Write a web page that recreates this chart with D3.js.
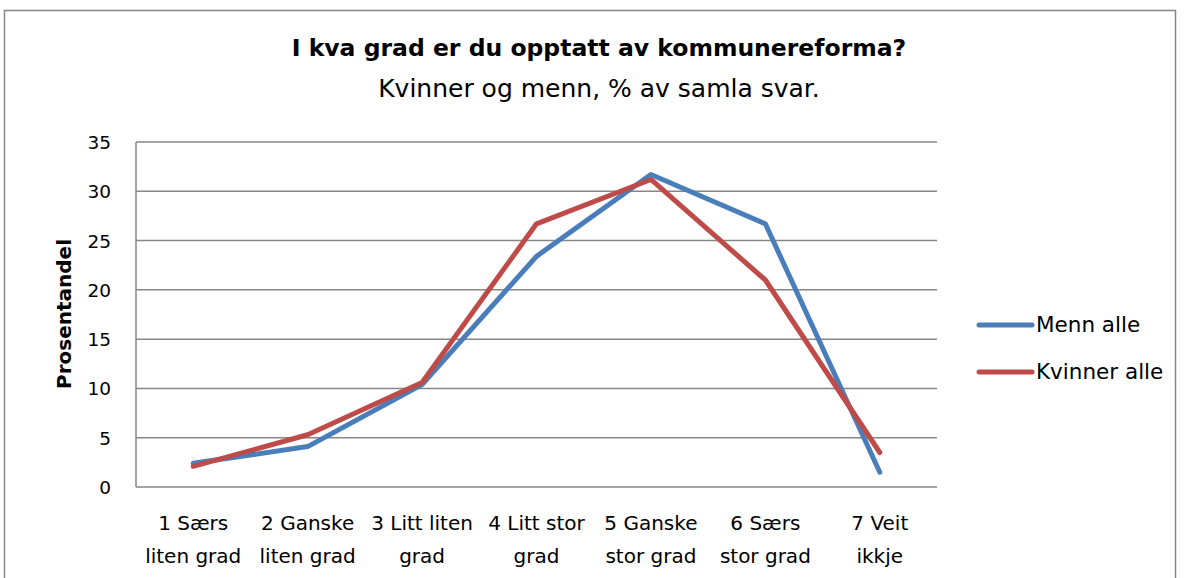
<!DOCTYPE html>
<html>
<head>
<meta charset="utf-8">
<script src="https://cdn.jsdelivr.net/npm/d3@7"></script>
<style>
  body { margin: 0; background: #fff; }
  svg { display: block; font-family: "DejaVu Sans", sans-serif; }
</style>
</head>
<body>
<svg id="chart" width="1184" height="578"></svg>
<script>
const categories = [
  ["1 Særs", "liten grad"],
  ["2 Ganske", "liten grad"],
  ["3 Litt liten", "grad"],
  ["4 Litt stor", "grad"],
  ["5 Ganske", "stor grad"],
  ["6 Særs", "stor grad"],
  ["7 Veit", "ikkje"],
];
const menn = [2.4, 4.1, 10.4, 23.4, 31.7, 26.7, 1.5];
const kvinner = [2.1, 5.3, 10.6, 26.7, 31.2, 21.0, 3.5];
const seriesNames = ["Menn alle", "Kvinner alle"];
const yTicks = [0, 5, 10, 15, 20, 25, 30, 35];

const colors = { "Menn alle": "#4a7ebb", "Kvinner alle": "#be4b48" };

let plot = { left: 136, right: 937, top: 142, bottom: 487 };

const svg = d3.select("#chart");

// outer chart border
svg.append("rect")
  .attr("x", 4.5).attr("y", 10.5)
  .attr("width", 1171).attr("height", 600)
  .attr("fill", "none")
  .attr("stroke", "#868686")
  .attr("stroke-width", 1.5);

const x = d3.scaleBand()
  .domain(d3.range(categories.length))
  .range([plot.left, plot.right]);

const y = d3.scaleLinear()
  .domain([0, 35])
  .range([plot.bottom, plot.top]);

// gridlines
svg.append("g")
  .selectAll("line")
  .data(yTicks)
  .enter()
  .append("line")
  .attr("x1", plot.left).attr("x2", plot.right)
  .attr("y1", (d) => y(d)).attr("y2", (d) => y(d))
  .attr("stroke", "#868686")
  .attr("stroke-width", 1.5);

// y axis line
svg.append("line")
  .attr("x1", plot.left).attr("x2", plot.left)
  .attr("y1", plot.top).attr("y2", plot.bottom)
  .attr("stroke", "#868686")
  .attr("stroke-width", 1.5);

// y tick labels
svg.append("g")
  .selectAll("text")
  .data(yTicks)
  .enter()
  .append("text")
  .attr("x", 111)
  .attr("y", (d) => y(d) + 7)
  .attr("text-anchor", "end")
  .attr("font-size", 18.5)
  .attr("fill", "#000")
  .text((d) => d);

// y axis title
svg.append("text")
  .attr("transform", "translate(71, 314) rotate(-90)")
  .attr("text-anchor", "middle")
  .attr("font-size", 20)
  .attr("font-weight", "bold")
  .text("Prosentandel");

// x labels
const xl = svg.append("g")
  .selectAll("text")
  .data(categories)
  .enter()
  .append("text")
  .attr("text-anchor", "middle")
  .attr("font-size", 20)
  .attr("x", (d, i) => x(i) + x.bandwidth() / 2);
xl.append("tspan")
  .attr("x", (d, i) => x(i) + x.bandwidth() / 2)
  .attr("y", 530)
  .text((d) => d[0]);
xl.append("tspan")
  .attr("x", (d, i) => x(i) + x.bandwidth() / 2)
  .attr("y", 563)
  .text((d) => d[1]);

// lines
const line = d3.line()
  .x((d, i) => x(i) + x.bandwidth() / 2)
  .y((d) => y(d));

[menn, kvinner].forEach((values, k) => {
  svg.append("path")
    .datum(values)
    .attr("d", line)
    .attr("fill", "none")
    .attr("stroke", colors[seriesNames[k]])
    .attr("stroke-width", 5)
    .attr("stroke-linejoin", "round")
    .attr("stroke-linecap", "round");
});

// legend
const legend = svg.append("g")
  .selectAll("g")
  .data(seriesNames)
  .enter()
  .append("g")
  .attr("transform", (d, i) => `translate(0, ${325 + i * 47})`);
legend.append("line")
  .attr("x1", 979).attr("x2", 1032)
  .attr("stroke", (d) => colors[d])
  .attr("stroke-width", 5)
  .attr("stroke-linecap", "round");
legend.append("text")
  .attr("x", 1036)
  .attr("y", 7)
  .attr("font-size", 21.5)
  .text((d) => d);

// titles
svg.append("text")
  .attr("x", 599).attr("y", 56)
  .attr("text-anchor", "middle")
  .attr("font-size", 23.5)
  .attr("font-weight", "bold")
  .text("I kva grad er du opptatt av kommunereforma?");
svg.append("text")
  .attr("x", 599).attr("y", 97)
  .attr("text-anchor", "middle")
  .attr("font-size", 25)
  .text("Kvinner og menn, % av samla svar.");
</script>
</body>
</html>
